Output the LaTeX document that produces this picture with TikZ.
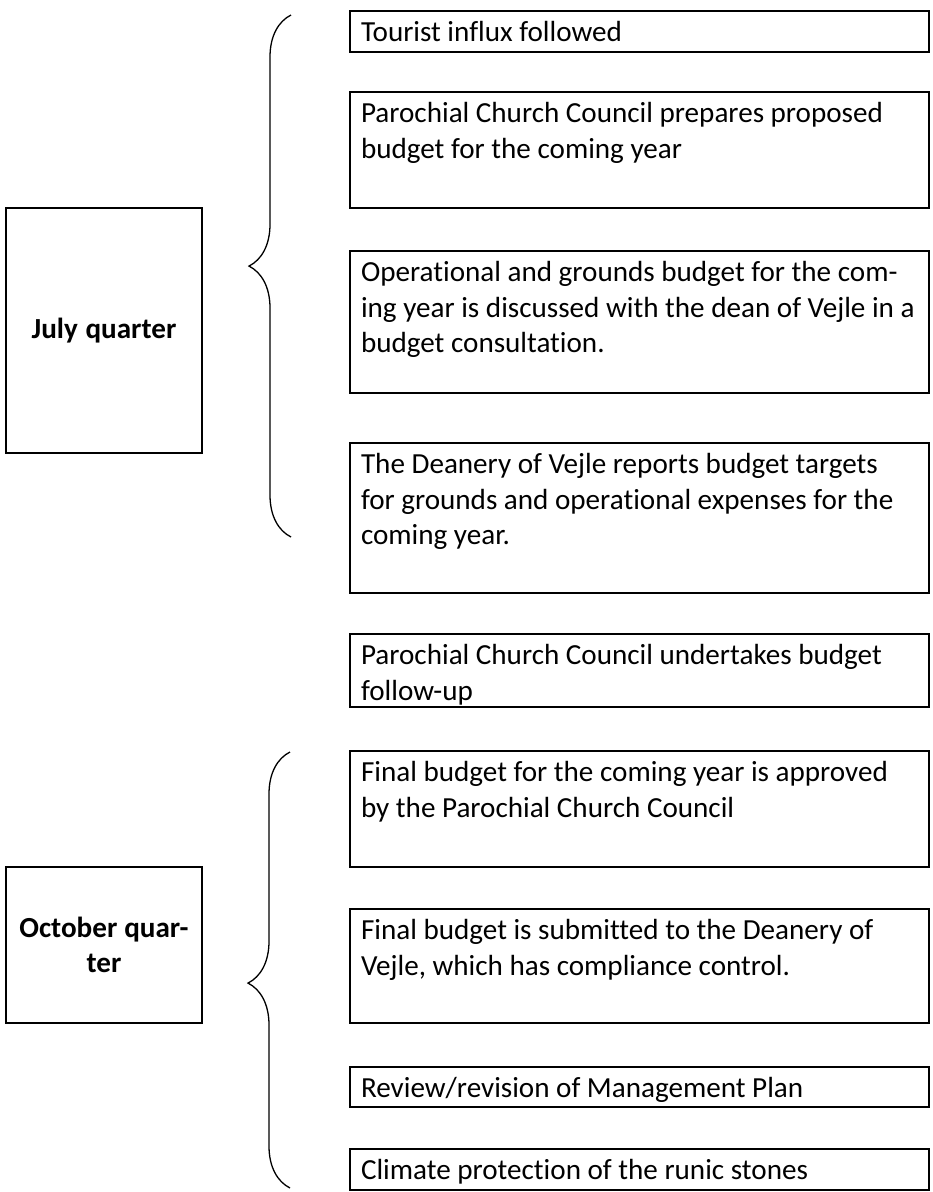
\documentclass[tikz,border=0pt]{standalone}
\usepackage{fontspec}
\setmainfont{Carlito}[Ligatures={NoCommon}]
\usetikzlibrary{decorations.pathreplacing}

\tikzset{
  task/.style = {draw, line width=0.8pt, anchor=north west, align=left,
    inner xsep=4.23pt, inner ysep=0pt, text width=214.2pt, text height=11.9pt,
    font=\fontsize{11.2pt}{13.65pt}\selectfont,
    execute at begin node={\spaceskip=0pt\xspaceskip=0pt}},
  quarter/.style = {draw, line width=1pt, minimum width=75.4pt, align=center,
    inner xsep=2pt, text width=70pt, font=\fontsize{11.2pt}{13.65pt}\selectfont\bfseries,
    execute at begin node={\spaceskip=0pt\xspaceskip=0pt}},
  curly/.style = {line width=0.5pt, decorate,
    decoration={brace, amplitude=16.15pt, aspect=#1}}
}

\begin{document}
\begin{tikzpicture}[x=0.3846pt, y=-0.3846pt]
  \useasboundingbox (0,0) rectangle (933,1192);
  % quarters
  \node[quarter, minimum height=94.2pt] (jul) at (104,330.5) {July quarter};
  \node[quarter, minimum height=60pt] (oct) at (104,945) {October quar-\\ter};
  % tasks
  \node[task, text depth=3.85pt] (tourist) at (349,10) {Tourist influx followed};
  \node[task, text depth=32.7pt] (propose) at (349,91) {Parochial Church Council prepares proposed\\budget for the coming year};
  \node[task, text depth=42.7pt] (consult) at (349,250) {Operational and grounds budget for the com-\\ing year is discussed with the dean of Vejle in a\\budget consultation.};
  \node[task, text depth=45.8pt] (targets) at (349,442) {The Deanery of Vejle reports budget targets\\for grounds and operational expenses for the\\coming year.};
  \node[task, text depth=16.2pt] (followup) at (349,633) {Parochial Church Council undertakes budget\\follow-up};
  \node[task, text depth=32.7pt] (approve) at (349,750) {Final budget for the coming year is approved\\by the Parochial Church Council};
  \node[task, text depth=31.9pt] (submit) at (349,908) {Final budget is submitted to the Deanery of\\Vejle, which has compliance control.};
  \node[task, text depth=3.5pt] (review) at (349,1066) {Review/revision of Management Plan};
  \node[task, text depth=3.85pt] (climate) at (349,1148) {Climate protection of the runic stones};
  % braces
  \coordinate (julbot) at (291,537);
  \coordinate (jultop) at (291,15);
  \coordinate (octbot) at (290,1188);
  \coordinate (octtop) at (290,752);
  \draw[curly=0.519] (julbot) -- (jultop);
  \draw[curly=0.470] (octbot) -- (octtop);
\end{tikzpicture}
\end{document}
